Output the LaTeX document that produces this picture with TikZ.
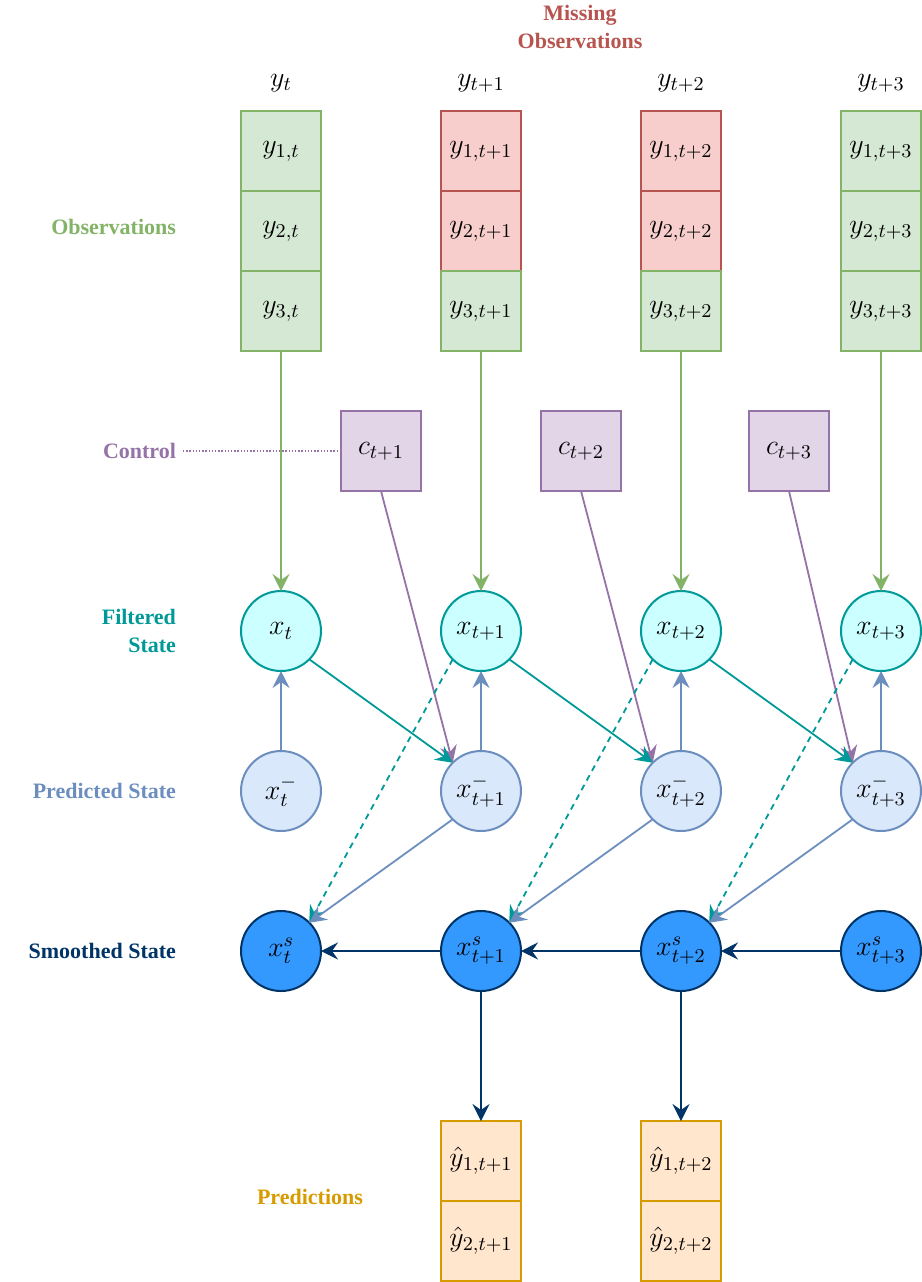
\documentclass[tikz,border=0pt]{standalone}
\usepackage{fix-cm}
\usepackage{amsmath}
\usepackage{fontspec}
\newfontfamily\labfont{Liberation Serif}
\usepackage{tikz}
\usetikzlibrary{arrows.meta,positioning}
\definecolor{obsgreen}{HTML}{82B366}
\definecolor{obsfill}{HTML}{D5E8D4}
\definecolor{missred}{HTML}{B85450}
\definecolor{missfill}{HTML}{F8CECC}
\definecolor{ctrlpurple}{HTML}{9673A6}
\definecolor{ctrlfill}{HTML}{E1D5E7}
\definecolor{filtteal}{HTML}{009999}
\definecolor{filtfill}{HTML}{CCFFFF}
\definecolor{predblue}{HTML}{6C8EBF}
\definecolor{predfill}{HTML}{DAE8FC}
\definecolor{smoothnavy}{HTML}{003366}
\definecolor{smoothfill}{HTML}{3399FF}
\definecolor{outorange}{HTML}{D79B00}
\definecolor{outfill}{HTML}{FFE6CC}
\tikzstyle{box} = [rectangle, minimum width=40pt, minimum height=40pt, inner sep=0pt, outer sep=0pt, line width=1pt, font=\fontsize{14}{17}\selectfont]
\tikzstyle{obsbox} = [box, draw=obsgreen, fill=obsfill]
\tikzstyle{missbox} = [box, draw=missred, fill=missfill]
\tikzstyle{ctrlbox} = [box, draw=ctrlpurple, fill=ctrlfill]
\tikzstyle{outbox} = [box, draw=outorange, fill=outfill]
\tikzstyle{state} = [circle, minimum size=40pt, inner sep=0pt, outer sep=0pt, line width=1pt, font=\fontsize{14}{17}\selectfont]
\tikzstyle{filtered} = [state, draw=filtteal, fill=filtfill]
\tikzstyle{predicted} = [state, draw=predblue, fill=predfill]
\tikzstyle{smoothed} = [state, draw=smoothnavy, fill=smoothfill]
\tikzstyle{head} = [font=\fontsize{14}{17}\selectfont]
\tikzstyle{lab} = [font=\labfont\fontsize{11}{14}\selectfont\bfseries, align=right]
\tikzstyle{arrow} = [line width=0.9pt, -{Stealth[length=8.5pt, width=8.5pt, inset=3pt]}]

\begin{document}
\begin{tikzpicture}[x=0.5pt, y=-0.5pt, node distance=60pt]
	\useasboundingbox (0,0) rectangle (922,1282);
	% observations
	\node (y1a) [obsbox] at (281,151) {$y_{1,t}$};
	\node (y2a) [obsbox, below=0pt of y1a] {$y_{2,t}$};
	\node (y3a) [obsbox, below=0pt of y2a] {$y_{3,t}$};
	\node (y1b) [missbox, right=of y1a] {$y_{1,t+1}$};
	\node (y2b) [missbox, below=0pt of y1b] {$y_{2,t+1}$};
	\node (y3b) [obsbox, below=0pt of y2b] {$y_{3,t+1}$};
	\node (y1c) [missbox, right=of y1b] {$y_{1,t+2}$};
	\node (y2c) [missbox, below=0pt of y1c] {$y_{2,t+2}$};
	\node (y3c) [obsbox, below=0pt of y2c] {$y_{3,t+2}$};
	\node (y1d) [obsbox, right=of y1c] {$y_{1,t+3}$};
	\node (y2d) [obsbox, below=0pt of y1d] {$y_{2,t+3}$};
	\node (y3d) [obsbox, below=0pt of y2d] {$y_{3,t+3}$};
	\node (ya) [head] at (281,83) {$y_t$};
	\node (yb) [head] at (481,83) {$y_{t+1}$};
	\node (yc) [head] at (681,83) {$y_{t+2}$};
	\node (yd) [head] at (881,83) {$y_{t+3}$};
	% control
	\node (c1) [ctrlbox] at (381,451) {$c_{t+1}$};
	\node (c2) [ctrlbox, right=of c1] {$c_{t+2}$};
	\node (c3) [ctrlbox, right=64pt of c2] {$c_{t+3}$};
	% states
	\node (xf0) [filtered] at (281,631) {$x_t$};
	\node (xf1) [filtered, right=of xf0] {$x_{t+1}$};
	\node (xf2) [filtered, right=of xf1] {$x_{t+2}$};
	\node (xf3) [filtered, right=of xf2] {$x_{t+3}$};
	\node (xp0) [predicted, below=40pt of xf0] {$x_t^-$};
	\node (xp1) [predicted, below=40pt of xf1] {$x_{t+1}^-$};
	\node (xp2) [predicted, below=40pt of xf2] {$x_{t+2}^-$};
	\node (xp3) [predicted, below=40pt of xf3] {$x_{t+3}^-$};
	\node (xs0) [smoothed, below=40pt of xp0] {$x_t^s$};
	\node (xs1) [smoothed, below=40pt of xp1] {$x_{t+1}^s$};
	\node (xs2) [smoothed, below=40pt of xp2] {$x_{t+2}^s$};
	\node (xs3) [smoothed, below=40pt of xp3] {$x_{t+3}^s$};
	% predictions
	\node (p1a) [outbox, below=65pt of xs1] {$\hat{y}_{1,t+1}$};
	\node (p2a) [outbox, below=0pt of p1a] {$\hat{y}_{2,t+1}$};
	\node (p1b) [outbox, below=65pt of xs2] {$\hat{y}_{1,t+2}$};
	\node (p2b) [outbox, below=0pt of p1b] {$\hat{y}_{2,t+2}$};
	% row labels
	\node (lmiss) [lab, text=missred, align=center] at (580,27) {Missing\\Observations};
	\node (lobs) [lab, text=obsgreen, anchor=east] at (183,227) {Observations};
	\node (lctrl) [lab, text=ctrlpurple, anchor=east] at (183,451) {Control};
	\node (lfilt) [lab, text=filtteal, anchor=east] at (183,631) {Filtered\\State};
	\node (lpred) [lab, text=predblue, anchor=east] at (183,791) {Predicted State};
	\node (lsmooth) [lab, text=smoothnavy, anchor=east] at (183,951) {Smoothed State};
	\node (lout) [lab, text=outorange] at (310,1197) {Predictions};

	\draw [ctrlpurple, line width=0.9pt, dash pattern=on 0.7pt off 0.9pt] (lctrl.east) -- (c1.west);
	\draw [arrow, obsgreen] (y3a) -- (xf0);
	\draw [arrow, obsgreen] (y3b) -- (xf1);
	\draw [arrow, obsgreen] (y3c) -- (xf2);
	\draw [arrow, obsgreen] (y3d) -- (xf3);
	\draw [arrow, ctrlpurple] (c1.south) -- (xp1.north west);
	\draw [arrow, ctrlpurple] (c2.south) -- (xp2.north west);
	\draw [arrow, ctrlpurple] (c3.south) -- (xp3.north west);
	\draw [arrow, filtteal] (xf0.south east) -- (xp1.north west);
	\draw [arrow, filtteal] (xf1.south east) -- (xp2.north west);
	\draw [arrow, filtteal] (xf2.south east) -- (xp3.north west);
	\draw [arrow, predblue] (xp0) -- (xf0);
	\draw [arrow, predblue] (xp1) -- (xf1);
	\draw [arrow, predblue] (xp2) -- (xf2);
	\draw [arrow, predblue] (xp3) -- (xf3);
	\draw [arrow, filtteal, dash pattern=on 3pt off 2.5pt] (xf1.south west) -- (xs0.north east);
	\draw [arrow, filtteal, dash pattern=on 3pt off 2.5pt] (xf2.south west) -- (xs1.north east);
	\draw [arrow, filtteal, dash pattern=on 3pt off 2.5pt] (xf3.south west) -- (xs2.north east);
	\draw [arrow, predblue] (xp1.south west) -- (xs0.north east);
	\draw [arrow, predblue] (xp2.south west) -- (xs1.north east);
	\draw [arrow, predblue] (xp3.south west) -- (xs2.north east);
	\draw [arrow, smoothnavy] (xs1) -- (xs0);
	\draw [arrow, smoothnavy] (xs2) -- (xs1);
	\draw [arrow, smoothnavy] (xs3) -- (xs2);
	\draw [arrow, smoothnavy] (xs1) -- (p1a);
	\draw [arrow, smoothnavy] (xs2) -- (p1b);
\end{tikzpicture}
\end{document}
